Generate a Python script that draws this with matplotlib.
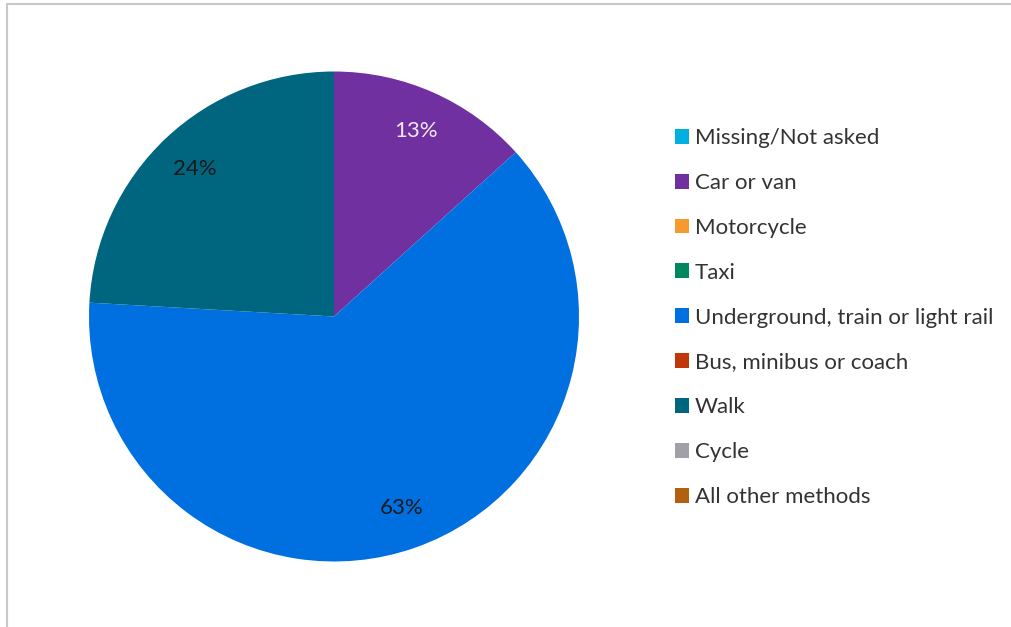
import matplotlib
matplotlib.use("Agg")
import matplotlib.pyplot as plt
from matplotlib.patches import Patch
from matplotlib.lines import Line2D

categories = ["Missing/Not asked", "Car or van", "Motorcycle", "Taxi",
              "Underground, train or light rail", "Bus, minibus or coach",
              "Walk", "Cycle", "All other methods"]
values = [0, 13.3, 0, 0, 62.6, 0, 24.1, 0, 0]
colors = ["#00B0E0", "#7030A0", "#F79A2E", "#00875F", "#0070E0",
          "#C0380A", "#006680", "#A0A0A8", "#B0600F"]

plt.rcParams['font.family'] = ['Lato', 'DejaVu Sans']

W, H = 1011, 627
fig = plt.figure(figsize=(W / 100, H / 100), dpi=100)
fig.patch.set_facecolor("white")

# outer frame (only left and top edges visible)
fig.add_artist(Line2D([6.5 / W, 6.5 / W], [0, 1 - 3.5 / H], color="#C8C8C8", lw=1.5))
fig.add_artist(Line2D([6.5 / W, 1], [1 - 3.5 / H, 1 - 3.5 / H], color="#C8C8C8", lw=1.5))

cx, cy, r = 334, 316.5, 245
ax = fig.add_axes([(cx - r) / W, (H - cy - r) / H, 2 * r / W, 2 * r / H])

def fmt(p):
    return f"{p:.0f}%" if p > 0 else ""

wedges, texts, autotexts = ax.pie(values, colors=colors, startangle=90, counterclock=False,
                                  autopct=fmt, pctdistance=0.83,
                                  wedgeprops=dict(linewidth=0),
                                  textprops=dict(fontsize=16, color="#1A1A1A"))
for i, t in enumerate(autotexts):
    if categories[i] == "Car or van":
        t.set_color("#F0E8F5")
ax.set_xlim(-1, 1)
ax.set_ylim(-1, 1)
ax.set_aspect("equal")
ax.axis("off")

handles = [Patch(facecolor=c, edgecolor="none") for c in colors]
leg = fig.legend(handles, categories, loc="upper left",
                 bbox_to_anchor=(655 / W, 1 - 108 / H), frameon=False,
                 fontsize=16, handlelength=0.65, handleheight=0.65,
                 handletextpad=0.25, labelspacing=1.12, labelcolor="#333333")

fig.savefig("out.png", dpi=100, facecolor="white")
